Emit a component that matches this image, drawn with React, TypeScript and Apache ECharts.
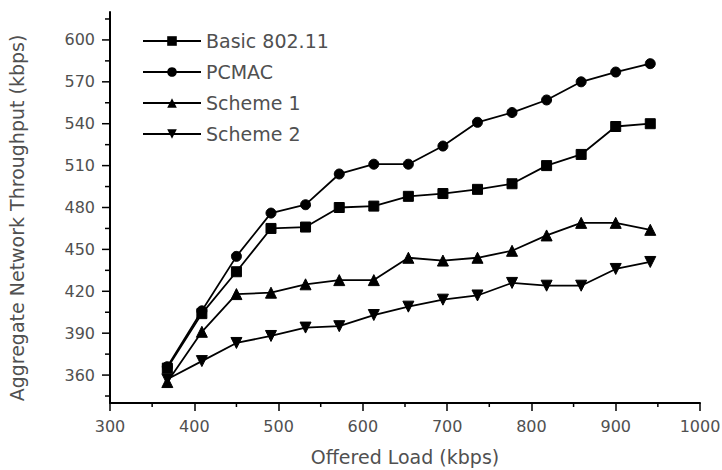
import React, { useEffect, useRef } from "react";
import * as echarts from "echarts";

const offeredLoad = [368, 409, 450, 491, 532, 572, 613, 654, 695, 736, 777, 818, 859, 900, 941];
const basic80211 = [365, 404, 434, 465, 466, 480, 481, 488, 490, 493, 497, 510, 518, 538, 540];
const pcmac = [366, 406, 445, 476, 482, 504, 511, 511, 524, 541, 548, 557, 570, 577, 583];
const scheme1 = [355, 391, 418, 419, 425, 428, 428, 444, 442, 444, 449, 460, 469, 469, 464];
const scheme2 = [357, 370, 383, 388, 394, 395, 403, 409, 414, 417, 426, 424, 424, 436, 441];

const seriesNames = ["Basic 802.11", "PCMAC", "Scheme 1", "Scheme 2"];
const seriesValues = [basic80211, pcmac, scheme1, scheme2];
const seriesSymbols = ["rect", "circle", "triangle", "triangle"];
const seriesRotate = [0, 0, 0, 180];
const seriesSizes = [10, 10, 11, 11];

const yMajorTicks = [360, 390, 420, 450, 480, 510, 540, 570, 600];
const yMinorTicks = [345, 375, 405, 435, 465, 495, 525, 555, 585, 615];
const xMinorTicks = [350, 450, 550, 650, 750, 850, 950];

const X_MIN = 300, X_MAX = 1000, X_STEP = 100;
const Y_MIN = 340, Y_MAX = 620;

const FONT = "DejaVu Sans";
const TEXT = "#505050";
const W = 722, H = 470;

export default function App() {
  const ref = useRef<HTMLDivElement>(null);
  useEffect(() => {
    if (!ref.current) return;
    const chart = echarts.init(ref.current, null, { renderer: "svg" });

    const lineSeries = seriesNames.map((name, i) => ({
      name,
      type: "line",
      data: offeredLoad.map((x, j) => [x, seriesValues[i][j]]),
      symbol: seriesSymbols[i],
      symbolSize: seriesSizes[i],
      symbolRotate: seriesRotate[i],
      showAllSymbol: true,
      lineStyle: { color: "#000", width: 1.8 },
      itemStyle: { color: "#000", borderColor: "#000" },
      emphasis: { disabled: true },
      z: 3,
    }));

    // tick marks: [axis (0 = y, 1 = x), value, length]
    const tickData = [
      ...yMajorTicks.map((v) => [0, v, 8]),
      ...yMinorTicks.map((v) => [0, v, 5]),
      ...xMinorTicks.map((v) => [1, v, 4]),
    ];
    const tickSeries = {
      type: "custom",
      name: "ticks",
      silent: true,
      clip: false,
      z: 1,
      data: tickData,
      encode: { x: 1, y: 1 },
      renderItem: (params: any, api: any) => {
        const axis = api.value(0);
        const v = api.value(1);
        const len = api.value(2);
        if (axis === 0) {
          const p = api.coord([X_MIN, v]);
          return {
            type: "line",
            shape: { x1: p[0] - len, y1: p[1], x2: p[0], y2: p[1] },
            style: { stroke: "#000", lineWidth: 1.5 },
          };
        }
        const p = api.coord([v, Y_MIN]);
        return {
          type: "line",
          shape: { x1: p[0], y1: p[1], x2: p[0], y2: p[1] + len },
          style: { stroke: "#000", lineWidth: 1.5 },
        };
      },
    };

    chart.setOption({
      animation: false,
      backgroundColor: "#fff",
      grid: { left: 110, right: 22, top: 12, bottom: 67, containLabel: false, outerBoundsMode: "none" },
      legend: {
        orient: "vertical",
        left: 137,
        top: 26,
        itemWidth: 58,
        itemHeight: 12,
        itemGap: 11,
        data: seriesNames,
        textStyle: { fontFamily: FONT, fontSize: 19, color: TEXT, lineHeight: 20 },
      },
      graphic: [
        {
          type: "text",
          x: 17,
          y: 218,
          rotation: Math.PI / 2,
          silent: true,
          style: {
            text: "Aggregate Network Throughput (kbps)",
            fontFamily: FONT,
            fontSize: 19,
            fill: TEXT,
            align: "center",
            verticalAlign: "middle",
          },
        },
      ],
      xAxis: {
        type: "value",
        min: X_MIN,
        max: X_MAX,
        interval: X_STEP,
        name: "Offered Load (kbps)",
        nameLocation: "middle",
        nameGap: 44,
        nameTextStyle: { fontFamily: FONT, fontSize: 19, color: TEXT, lineHeight: 19 },
        axisLine: { show: true, onZero: false, lineStyle: { color: "#000", width: 2 } },
        axisTick: { show: true, inside: false, length: 8, lineStyle: { color: "#000", width: 1.5 } },
        axisLabel: { margin: 15, fontFamily: FONT, fontSize: 16, color: TEXT, formatter: (v: number) => String(v) },
        splitLine: { show: false },
      },
      yAxis: {
        type: "value",
        min: Y_MIN,
        max: Y_MAX,
        axisLine: { show: true, onZero: false, lineStyle: { color: "#000", width: 2 } },
        axisTick: { show: false },
        axisLabel: { margin: 15, customValues: yMajorTicks, fontFamily: FONT, fontSize: 16, color: TEXT },
        splitLine: { show: false },
      },
      series: [...lineSeries, tickSeries],
    });
    return () => chart.dispose();
  }, []);
  return (
    <div
      ref={ref}
      style={{ position: "fixed", left: 0, top: 0, width: W, height: H, background: "#fff" }}
    />
  );
}
